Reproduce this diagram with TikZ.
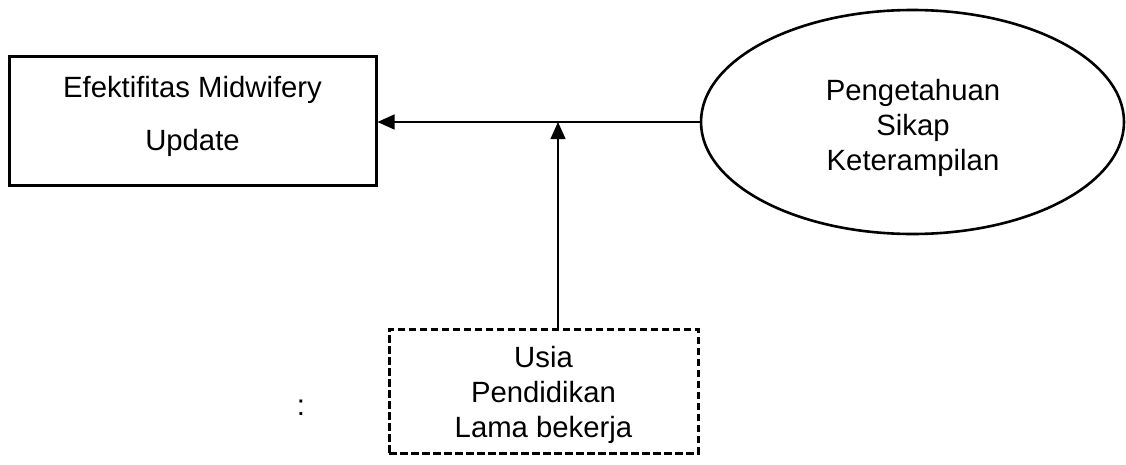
\documentclass[tikz,border=0pt]{standalone}
\usepackage{fontspec}
\setmainfont{Liberation Sans}
\usetikzlibrary{arrows.meta,shapes.geometric}
\begin{document}
\begin{tikzpicture}[x=1pt,y=-1pt,
  lbl/.style={font=\fontsize{29.3}{35}\selectfont, align=center, inner sep=0pt},
  solidbox/.style={draw, line width=3pt, minimum width=367pt, minimum height=129pt, inner sep=0pt},
  oval/.style={draw, ellipse, line width=2.6pt, minimum width=423pt, minimum height=224pt, inner sep=0pt},
  dashbox/.style={draw, line width=3pt, dash pattern=on 7.5pt off 3.5pt, minimum width=309pt, minimum height=124pt, inner sep=0pt},
  link/.style={line width=1.2pt, -{Triangle[length=17pt,width=15pt]}}
]
\useasboundingbox (0,0) rectangle (1126,464);

% outcome box
\node[solidbox] (eff) at (192.5,120.5) {};
\node[lbl, font=\fontsize{29.3}{53}\selectfont] (efft) at (192.5,116) {Efektifitas Midwifery\\Update};

% independent variables
\node[oval] (ind) at (912.5,122) {};
\node[lbl] (indt) at (913,128) {Pengetahuan\\Sikap\\Keterampilan};

% moderating variables
\node[dashbox] (mod) at (543.5,391) {};
\node[lbl] (modt) at (543.5,395) {Usia\\Pendidikan\\Lama bekerja};

\node[lbl] (colon) at (301,408) {:};

% connectors
\coordinate (j) at (558,122);
\draw[link] (ind.west |- j) -- (eff.east |- j);
\draw[link] (j |- mod.north) -- (j);
\end{tikzpicture}
\end{document}
